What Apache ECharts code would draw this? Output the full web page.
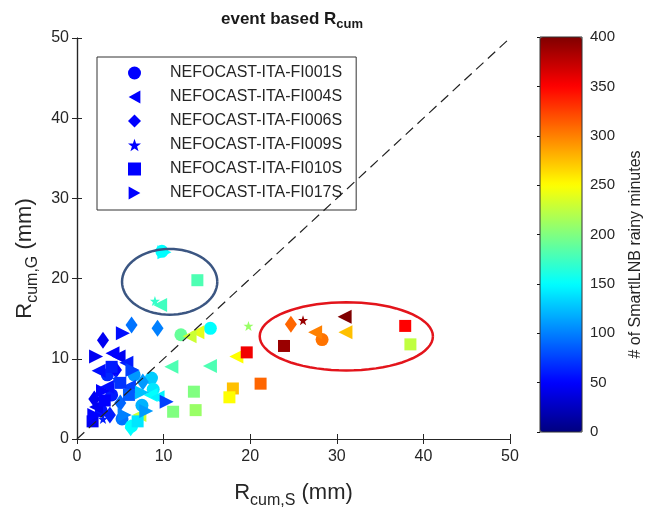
<!DOCTYPE html>
<html>
<head>
<meta charset="utf-8">
<script src="https://cdn.jsdelivr.net/npm/echarts@6/dist/echarts.min.js"></script>
<style>
  html, body { margin: 0; padding: 0; background: #fff; }
  #main { width: 646px; height: 508px; }
</style>
</head>
<body>
<div id="main"></div>
<script>
// station names (legend)
const stations = ['NEFOCAST-ITA-FI001S', 'NEFOCAST-ITA-FI004S', 'NEFOCAST-ITA-FI006S',
                  'NEFOCAST-ITA-FI009S', 'NEFOCAST-ITA-FI010S', 'NEFOCAST-ITA-FI017S'];

// [R_cum,S (mm), R_cum,G (mm), # of SmartLNB rainy minutes]
const fi001 = [[9.8, 23.4, 150], [15.4, 13.8, 150], [12.0, 13.0, 190], [28.3, 12.4, 305],
               [8.6, 7.6, 130], [6.6, 8.0, 110], [4.0, 5.5, 60], [2.8, 3.5, 55], [5.2, 2.5, 95],
               [7.5, 4.2, 120], [3.5, 8.0, 65], [6.3, 1.6, 150], [8.8, 6.2, 140]];
const fi004 = [[9.6, 16.7, 175], [27.5, 13.3, 300], [30.9, 15.25, 400], [31.0, 13.3, 275],
               [18.4, 10.3, 250], [15.35, 9.1, 180], [10.9, 9.0, 180], [13.9, 13.3, 240],
               [13.0, 12.8, 230], [4.8, 10.3, 45], [4.1, 10.7, 50], [2.5, 8.5, 55], [5.7, 9.5, 60],
               [3.5, 6.5, 55], [7.2, 3.0, 230], [8.5, 5.5, 150], [2.2, 4.0, 45], [6.0, 6.5, 75],
               [9.3, 5.2, 145]];
const fi006 = [[3.0, 12.3, 45], [6.3, 14.2, 95], [9.3, 13.8, 100], [24.7, 14.3, 310],
               [4.5, 8.6, 50], [2.0, 5.0, 45], [3.8, 3.0, 60], [7.6, 7.1, 110], [6.2, 1.4, 150],
               [5.0, 4.5, 90]];
const fi009 = [[9.0, 17.2, 170], [26.1, 14.8, 390], [19.8, 14.1, 210], [4.5, 7.5, 70], [3.0, 2.5, 60]];
const fi010 = [[13.9, 19.8, 180], [23.9, 11.6, 390], [37.9, 14.1, 350], [38.5, 11.8, 225],
               [19.6, 10.8, 355], [21.2, 6.9, 310], [18.0, 6.3, 275], [17.6, 5.2, 250],
               [13.5, 5.9, 200], [13.7, 3.6, 210], [11.1, 3.4, 200], [3.2, 4.8, 50], [5.0, 7.0, 70],
               [6.0, 5.5, 85], [1.8, 2.2, 45], [7.0, 2.2, 140], [4.0, 9.0, 60]];
const fi017 = [[10.1, 23.3, 150], [5.3, 13.2, 55], [2.2, 10.3, 45], [10.35, 4.65, 75],
               [6.4, 8.6, 75], [3.0, 6.0, 50], [8.0, 3.5, 110], [2.0, 3.0, 50], [5.5, 3.0, 100],
               [7.5, 5.8, 125]];

// axis ticks
const axisTicks = [0, 10, 20, 30, 40, 50];
const colorTicks = [0, 50, 100, 150, 200, 250, 300, 350, 400];

// 1:1 reference line
const diagonal = [[0, 0], [50, 50]];

// highlighted groups: [centre x, centre y, half width, half height] in mm
const ellipses = [[10.7, 19.6, 5.5, 4.1], [31.1, 12.8, 10.0, 4.25]];
const ellipseColors = ['#3b5682', '#e3141b'];

const jet = ['#000080', '#0000ff', '#0080ff', '#00ffff', '#80ff80', '#ffff00', '#ff8000', '#ff0000', '#800000'];
const star = 'path://M50,0 L61.8,35 L98,35 L69,57 L80,92 L50,71 L20,92 L31,57 L2,35 L38.2,35 Z';
const leftTri = 'path://M0,50 L90,0 L90,100 Z';
const rightTri = 'path://M90,50 L0,0 L0,100 Z';

const markers = [
  { symbol: 'circle', size: 13, rotate: 0, icon: 'circle' },
  { symbol: 'triangle', size: 14, rotate: 90, icon: leftTri },
  { symbol: 'diamond', size: [12, 17], rotate: 0, icon: 'diamond' },
  { symbol: star, size: 10, rotate: 0, icon: star },
  { symbol: 'rect', size: 12, rotate: 0, icon: 'rect' },
  { symbol: 'triangle', size: 14, rotate: -90, icon: rightTri }
];
const stationData = [fi001, fi004, fi006, fi009, fi010, fi017];

const font = 'Liberation Sans, Arial, Helvetica, sans-serif';
const ink = '#262626';

const scatterSeries = stations.map((name, i) => ({
  name: name,
  type: 'scatter',
  data: stationData[i],
  symbol: markers[i].symbol,
  symbolSize: markers[i].size,
  symbolRotate: markers[i].rotate,
  itemStyle: { color: '#0000ff', opacity: 1 },
  z: 2
}));

const chart = echarts.init(document.getElementById('main'));
const last = axisTicks[axisTicks.length - 1];
const step = axisTicks[1] - axisTicks[0];

const option = {
  animation: false,
  textStyle: { fontFamily: font },
  title: {
    text: '{a|event based R}{b|cum}',
    left: 221, top: 7, padding: 0,
    textStyle: {
      rich: {
        a: { fontSize: 17, fontWeight: 'bold', color: '#1a1a1a', fontFamily: font },
        b: { fontSize: 13, fontWeight: 'bold', color: '#1a1a1a', fontFamily: font, padding: [11, 0, 0, 0] }
      }
    }
  },
  legend: {
    orient: 'vertical',
    left: 97, top: 57,
    padding: [8, 14, 9, 31],
    itemWidth: 13, itemHeight: 13, itemGap: 8,
    symbolKeepAspect: true,
    borderColor: '#333', borderWidth: 1,
    backgroundColor: '#fff',
    data: stations.map((n, i) => ({ name: n, icon: markers[i].icon, itemStyle: { color: '#0000ff' } })),
    textStyle: { fontSize: 16, lineHeight: 13, color: ink, fontFamily: font, padding: [0, 0, 0, 24] }
  },
  visualMap: {
    type: 'continuous',
    min: colorTicks[0], max: colorTicks[colorTicks.length - 1],
    dimension: 2,
    seriesIndex: [0, 1, 2, 3, 4, 5],
    inRange: { color: jet },
    calculable: false, hoverLink: false,
    itemWidth: 42, itemHeight: 395,
    left: 540, top: 37, padding: 0,
    text: null, showLabel: false
  },
  grid: [
    { left: 77, right: 136, top: 38, bottom: 69, outerBoundsMode: 'none', containLabel: false },
    { left: 540, width: 42, top: 37, height: 395, show: true, borderColor: '#333', borderWidth: 1, z: 10,
      outerBoundsMode: 'none', containLabel: false }
  ],
  xAxis: [
    {
      gridIndex: 0, type: 'value', min: axisTicks[0], max: last, interval: step,
      axisLine: { lineStyle: { color: ink, width: 1.2 } },
      axisTick: { inside: true, length: 5, lineStyle: { color: ink } },
      splitLine: { show: false },
      axisLabel: { fontSize: 16, color: ink, margin: 10 },
      name: '{r|R}{s|cum,S}{r| (mm)}',
      nameLocation: 'middle', nameGap: 38,
      nameTextStyle: {
        rich: {
          r: { fontSize: 22, color: ink, fontFamily: font },
          s: { fontSize: 16, color: ink, fontFamily: font, padding: [16, 0, 0, 0] }
        }
      }
    },
    {
      gridIndex: 0, type: 'value', position: 'top', min: axisTicks[0], max: last, interval: step,
      axisLine: { lineStyle: { color: ink, width: 1.2 } },
      axisTick: { inside: true, length: 5, lineStyle: { color: ink } },
      splitLine: { show: false }, axisLabel: { show: false }
    },
    { gridIndex: 1, type: 'value', show: false, min: 0, max: 1 }
  ],
  yAxis: [
    {
      gridIndex: 0, type: 'value', min: axisTicks[0], max: last, interval: step,
      axisLine: { show: true, lineStyle: { color: ink, width: 1.2 } },
      axisTick: { show: true, inside: true, length: 5, lineStyle: { color: ink } },
      splitLine: { show: false },
      axisLabel: { fontSize: 16, color: ink, margin: 8 },
      name: '{r|R}{s|cum,G}{r| (mm)}',
      nameLocation: 'middle', nameGap: 36, nameRotate: 90,
      nameTextStyle: {
        padding: [0, 40, 0, 0],
        rich: {
          r: { fontSize: 22, color: ink, fontFamily: font },
          s: { fontSize: 16, color: ink, fontFamily: font, padding: [14, 0, 0, 0] }
        }
      }
    },
    {
      gridIndex: 0, type: 'value', position: 'right', min: axisTicks[0], max: last, interval: step,
      axisLine: { show: true, lineStyle: { color: ink, width: 1.2 } },
      axisTick: { show: true, inside: true, length: 5, lineStyle: { color: ink } },
      splitLine: { show: false }, axisLabel: { show: false }
    },
    {
      gridIndex: 1, type: 'value', position: 'right',
      min: colorTicks[0], max: colorTicks[colorTicks.length - 1], interval: colorTicks[1] - colorTicks[0],
      axisLine: { show: false },
      axisTick: { show: true, inside: true, length: 3, lineStyle: { color: '#111' } },
      splitLine: { show: false },
      axisLabel: { fontSize: 15, color: ink, margin: 8 },
      name: '# of SmartlLNB rainy minutes',
      nameLocation: 'middle', nameGap: 46, nameRotate: 90,
      nameTextStyle: { fontSize: 16, color: ink, padding: [0, 40, 0, 0] }
    }
  ],
  series: scatterSeries.concat([
    {
      type: 'line',
      data: diagonal,
      xAxisIndex: 0, yAxisIndex: 0,
      symbol: 'none',
      lineStyle: { color: '#222', width: 1.2, type: [10, 6] },
      silent: true,
      z: 4
    },
    {
      type: 'custom',
      xAxisIndex: 0, yAxisIndex: 0,
      data: ellipses,
      encode: { x: 0, y: 1 },
      silent: true,
      z: 5,
      renderItem: function (params, api) {
        const cx = api.value(0), cy = api.value(1), rx = api.value(2), ry = api.value(3);
        const pts = [];
        for (let k = 0; k <= 72; k++) {
          const t = k / 72 * Math.PI * 2;
          pts.push(api.coord([cx + rx * Math.cos(t), cy + ry * Math.sin(t)]));
        }
        return {
          type: 'polyline',
          shape: { points: pts },
          style: { stroke: ellipseColors[params.dataIndex], lineWidth: 2.5, fill: null }
        };
      }
    }
  ])
};

chart.setOption(option);
</script>
</body>
</html>
